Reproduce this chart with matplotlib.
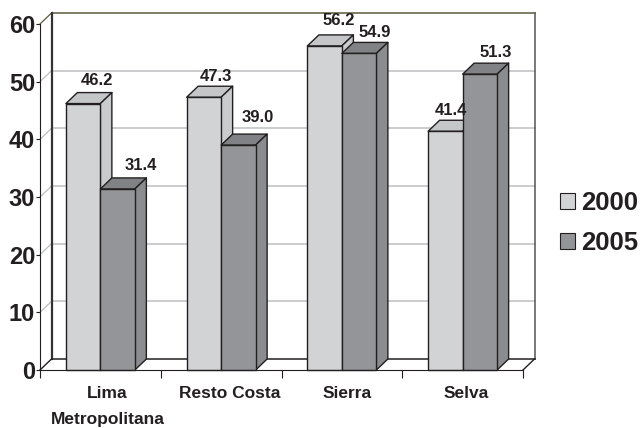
import matplotlib
matplotlib.use('Agg')
import matplotlib.pyplot as plt
from matplotlib.patches import Polygon, Patch

categories = ['Lima\nMetropolitana', 'Resto Costa', 'Sierra', 'Selva']
series_names = ['2000', '2005']
values_2000 = [46.2, 47.3, 56.2, 41.4]
values_2005 = [31.4, 39.0, 54.9, 51.3]
y_ticks = [0, 10, 20, 30, 40, 50, 60]

# hand placed label nudges (pixels), same order as the values
nudge_2000 = [(14, 12), (12, 10), (14, 14), (6, 10)]
nudge_2005 = [(23, 12), (19, 17), (16, 10), (16, 11)]
nudge_cat = [7, 9, 5, 4]

FONT = ['Liberation Sans']
TEXT = '#231f20'
LIGHT = ('#d1d3d4', '#c4c6c8', '#c9cbcd')
DARK = ('#939598', '#808285', '#8a8c8f')
PX = 0.72

fig = plt.figure(figsize=(6.4, 4.28), dpi=100)
ax = fig.add_axes([40/640, 1 - 370/428, 483/640, 346/428])
ax.set_xlim(0, 4)
ax.set_ylim(0, 60)

# depth of the fake 3d box in data units
dx = 11.5 / 483 * 4
dy = 11 / 346 * 60
bar_w = 34.5 / 483 * 4


def box(x, h, cols):
    front, top, side = cols
    kw = dict(edgecolor='#231f20', linewidth=1, clip_on=False, joinstyle='round')
    ax.add_patch(Polygon([(x, h), (x + dx, h + dy), (x + bar_w + dx, h + dy), (x + bar_w, h)], facecolor=top, zorder=4, **kw))
    ax.add_patch(Polygon([(x + bar_w, 0), (x + bar_w + dx, dy), (x + bar_w + dx, h + dy), (x + bar_w, h)], facecolor=side, zorder=4, **kw))
    ax.add_patch(Polygon([(x, 0), (x + bar_w, 0), (x + bar_w, h), (x, h)], facecolor=front, zorder=4, **kw))


def label(x, v, nudge):
    ax.annotate(f'{v:.1f}', xy=(x + bar_w / 2, v + dy), xytext=(nudge[0] * PX, nudge[1] * PX),
                textcoords='offset points', ha='center', va='center', family=FONT, fontsize=12,
                fontweight='bold', color=TEXT, zorder=6, annotation_clip=False)


# back wall
for t in y_ticks[1:-1]:
    ax.plot([dx, 4 + dx], [t + dy, t + dy], color='#bcbec0', lw=1.1, zorder=1, clip_on=False)
    ax.plot([0, dx], [t, t + dy], color='#bcbec0', lw=0.9, zorder=1, clip_on=False)
ax.plot([dx, 4 + dx], [60 + dy, 60 + dy], color='#5b5a3c', lw=1.1, zorder=2, clip_on=False)
ax.plot([0, dx], [60, 60 + dy], color='#5b5a3c', lw=0.9, zorder=2, clip_on=False)
ax.plot([dx, dx], [dy, 60 + dy], color='#333333', lw=1.6, zorder=2, clip_on=False)
ax.plot([4 + dx, 4 + dx], [dy, 60 + dy], color='#555555', lw=1.1, zorder=2, clip_on=False)
ax.plot([dx, 4 + dx], [dy, dy], color='#231f20', lw=1.1, zorder=2, clip_on=False)
ax.plot([0, dx], [0, dy], color='#231f20', lw=1, zorder=2, clip_on=False)
ax.plot([4, 4 + dx], [0, dy], color='#231f20', lw=1, zorder=2, clip_on=False)

for i in range(4):
    left = i + 0.5 - bar_w
    box(left, values_2000[i], LIGHT)
    box(left + bar_w, values_2005[i], DARK)
    label(left, values_2000[i], nudge_2000[i])
    label(left + bar_w, values_2005[i], nudge_2005[i])

for s in ('top', 'right'):
    ax.spines[s].set_visible(False)
ax.spines['left'].set_color('#231f20')
ax.spines['bottom'].set_color('#231f20')
ax.spines['bottom'].set_zorder(5)
ax.patch.set_alpha(0)

ax.set_yticks(y_ticks)
ax.set_yticklabels([str(t) for t in y_ticks], family=FONT, fontsize=17, fontweight='bold', color=TEXT)
ax.tick_params(axis='y', length=3, width=0.8, pad=0.5, color='#231f20')
ax.set_xticks([0, 1, 2, 3, 4])
ax.set_xticklabels([])
ax.tick_params(axis='x', length=6, width=0.8, color='#231f20')
for i, c in enumerate(categories):
    ax.annotate(c, xy=(i + 0.5, 0), xytext=(nudge_cat[i] * PX, -11.5), textcoords='offset points', ha='center', va='top',
                family=FONT, fontsize=12.5, fontweight='bold', color=TEXT, linespacing=1.95)

handles = [Patch(facecolor=LIGHT[0], edgecolor='#231f20', lw=0.8),
           Patch(facecolor=DARK[0], edgecolor='#231f20', lw=0.8)]
fig.legend(handles, series_names, loc='center left', bbox_to_anchor=(560/640, 1 - 223/428), frameon=False,
           prop={'family': FONT, 'size': 18.5, 'weight': 'bold'}, labelcolor=TEXT,
           handlelength=0.58, handleheight=0.58, handletextpad=0.25, labelspacing=0.62, borderpad=0, borderaxespad=0)

fig.savefig('out.png', dpi=100)
